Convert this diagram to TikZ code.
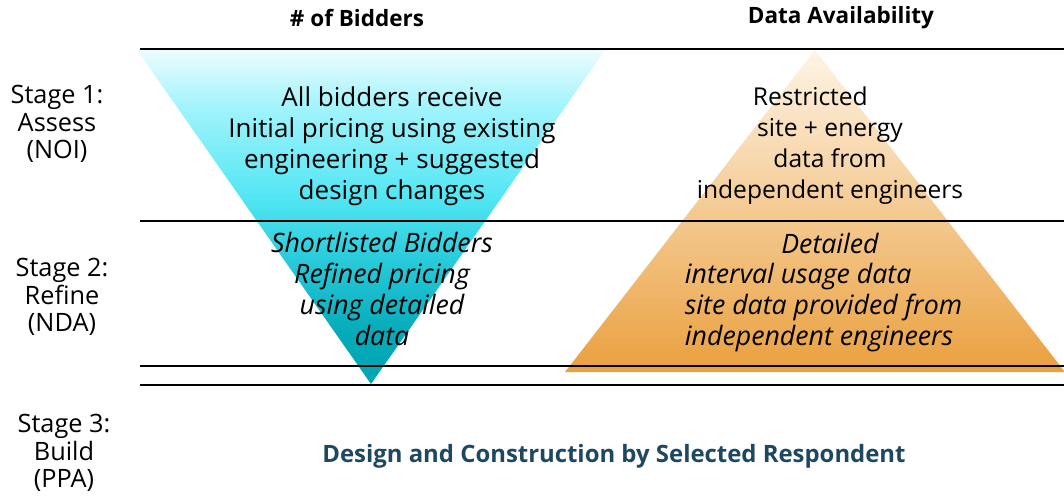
\documentclass[tikz,border=0pt]{standalone}
\usepackage{fontspec}
\setmainfont{Open Sans}
\usetikzlibrary{positioning}
\definecolor{cyantop}{RGB}{236,252,255}
\definecolor{cyanlight}{RGB}{165,244,252}
\definecolor{cyanmid}{RGB}{82,230,243}
\definecolor{cyandeep}{RGB}{42,204,220}
\definecolor{cyanlow}{RGB}{0,165,180}
\definecolor{orangetop}{RGB}{254,244,230}
\definecolor{orangemid}{RGB}{245,206,148}
\definecolor{orangelow}{RGB}{234,160,62}
\definecolor{buildtext}{RGB}{30,72,98}
% vertical shading for the bidder funnel (box maps to 25bp..75bp)
\pgfdeclareverticalshading{funnel}{100bp}{%
    color(0bp)=(cyanlow); color(25bp)=(cyanlow); color(33bp)=(cyanlow!85!cyandeep);
    color(44bp)=(cyandeep); color(53bp)=(cyanmid); color(67bp)=(cyanlight);
    color(75bp)=(cyantop); color(100bp)=(cyantop)}

\begin{document}
\begin{tikzpicture}[
    x=0.025cm,
    y=-0.025cm,
    head/.style ={
        font=\fontsize{16}{19}\selectfont\bfseries
    },
    stage/.style ={
        align=center,
        font=\fontsize{18}{19.5}\selectfont
    },
    body/.style ={
        align=center,
        font=\fontsize{18.5}{22}\selectfont
    },
    bodyit/.style ={
        align=center,
        font=\fontsize{19}{22}\selectfont\itshape
    },
    rule/.style ={
        line width=1.4pt,
        black
    }
    ]

    \useasboundingbox (0,0) rectangle (1064,496);

    % funnel and pyramid
    \shade[shading=funnel]
        (137,50) -- (605,50) -- (371,384) -- cycle;
    \shade[top color=orangetop, middle color=orangemid, bottom color=orangelow]
        (815,50) -- (1065,372) -- (565,372) -- cycle;

    % stage rules
    \foreach \y in {49, 221, 366, 385}
        \draw[rule] (140,\y) -- (1064,\y);

    % column heads
    \node[head] (bidders) at (357,18) {\# of Bidders};
    \node[head] (avail) at (841,18) {Data Availability};

    % stage names
    \node[stage] (assess) at (57,124) {Stage 1:\\Assess\\(NOI)};
    \node[stage] (refine) at (62,297) {Stage 2:\\Refine\\(NDA)};
    \node[stage] (build) at (64,453) {Stage 3:\\Build\\(PPA)};

    % stage 1
    \node[body] (allbid) at (392,146) {All bidders receive\\Initial pricing using existing\\engineering + suggested\\design changes};
    \node[body, font=\fontsize{17.5}{22}\selectfont] (restrict) at (830,146) {Restricted\hspace*{1.6em}\\site + energy\hspace*{1.6em}\\data from\hspace*{1.6em}\\independent engineers};

    % stage 2
    \node[bodyit] (shortlist) at (382,289) {Shortlisted Bidders\\Refined pricing\\using detailed\\data};
    \node[bodyit] (detail) at (830,243) {Detailed};
    \node[bodyit, align=left, anchor=north west] (interval) at (680,258) {interval usage data\\site data provided from\\independent engineers};

    % stage 3
    \node[head, font=\fontsize{17}{20}\selectfont\bfseries, text=buildtext] (design) at (614,456) {Design and Construction by Selected Respondent};
\end{tikzpicture}
\end{document}
